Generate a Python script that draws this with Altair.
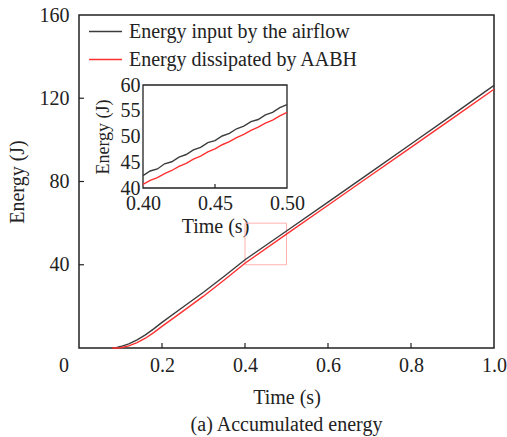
import altair as alt
import pandas as pd

# ---- data ----
series_names = ["Energy input by the airflow", "Energy dissipated by AABH"]
series_colors = ["#3c3c3c", "#ff3030"]

t_main = [0.08, 0.09, 0.10, 0.12, 0.14, 0.16, 0.18, 0.20, 0.25, 0.30, 0.35,
          0.40, 0.50, 0.60, 0.70, 0.80, 0.90, 1.00]
e_input = [0.0, 0.2, 0.7, 2.0, 3.9, 6.3, 9.2, 12.3, 19.6, 26.8, 34.5,
           42.4, 56.2, 70.1, 84.0, 98.0, 112.0, 126.2]
e_dissip = [0.0, 0.0, 0.1, 1.0, 2.6, 4.7, 7.4, 10.4, 17.6, 24.9, 32.7,
            40.7, 54.7, 68.6, 82.5, 96.4, 110.3, 124.3]

t_inset = [0.400, 0.405, 0.410, 0.415, 0.420, 0.425, 0.430, 0.435, 0.440, 0.445,
           0.450, 0.455, 0.460, 0.465, 0.470, 0.475, 0.480, 0.485, 0.490, 0.495, 0.500]
e_input_inset = [42.4, 43.3, 43.7, 44.7, 45.1, 46.0, 46.5, 47.4, 47.9, 48.8,
                 49.2, 50.1, 50.6, 51.5, 52.0, 52.9, 53.3, 54.2, 54.7, 55.6, 56.2]
e_dissip_inset = [40.7, 41.5, 42.0, 42.8, 43.4, 44.2, 44.8, 45.6, 46.2, 47.0,
                  47.6, 48.4, 49.0, 49.8, 50.4, 51.2, 51.8, 52.6, 53.2, 54.0, 54.7]

x_ticks_main = [0.2, 0.4, 0.6, 0.8]
y_ticks_main = [40, 80, 120]
x_ticks_inset = [0.45]
zoom_box = {"t0": [0.4], "t1": [0.5], "e0": [40], "e1": [60]}

FONT = "Liberation Serif"
FS = 20
W, H = 415, 333

main_df = pd.DataFrame({
    "t": t_main * 2,
    "E": e_input + e_dissip,
    "series": [series_names[0]] * len(t_main) + [series_names[1]] * len(t_main),
})
inset_df = pd.DataFrame({
    "t": t_inset * 2,
    "E": e_input_inset + e_dissip_inset,
    "series": [series_names[0]] * len(t_inset) + [series_names[1]] * len(t_inset),
})
box_df = pd.DataFrame(zoom_box)
origin_df = pd.DataFrame({"t": [0.0], "E": [0.0], "lab": ["0"]})

color_scale = alt.Scale(domain=series_names, range=series_colors)

# ---- main panel ----
xm = alt.Scale(domain=[0, 1], nice=False)
ym = alt.Scale(domain=[0, 160], nice=False)

main_lines = alt.Chart(main_df).mark_line(strokeWidth=1.4).encode(
    x=alt.X("t:Q", scale=xm, axis=alt.Axis(
        values=[0.2, 0.4, 0.6, 0.8, 1.0], format=".1f", tickSize=0, domain=False,
        grid=False, labelPadding=7, title="Time (s)", titlePadding=12,
        labelFlush=False, labelOverlap=False)),
    y=alt.Y("E:Q", scale=ym, axis=alt.Axis(
        values=[40, 80, 120, 160], format="d", tickSize=0, domain=False,
        grid=False, labelPadding=10, title="Energy (J)", titlePadding=12,
        labelFlush=False, labelOverlap=False)),
    color=alt.Color("series:N", scale=color_scale, sort=series_names,
                    legend=alt.Legend(orient="none", legendX=9, legendY=-1, title=None,
                                      symbolType="stroke", symbolSize=1089,
                                      symbolStrokeWidth=1.4, rowPadding=-13,
                                      labelOffset=6, padding=0,
                                      labelFont=FONT, labelFontSize=FS,
                                      labelColor="#222", labelLimit=400)),
    order="t:Q",
)

xtick_main = alt.Chart(pd.DataFrame({"t": x_ticks_main})).mark_rule(
    color="#222", strokeWidth=1.2).encode(
    x=alt.X("t:Q", scale=xm), y=alt.value(H), y2=alt.value(H - 5))
ytick_main = alt.Chart(pd.DataFrame({"E": y_ticks_main})).mark_rule(
    color="#222", strokeWidth=1.2).encode(
    y=alt.Y("E:Q", scale=ym), x=alt.value(0), x2=alt.value(5))

box = alt.Chart(box_df).mark_rect(fill=None, stroke="#ffb0b0", strokeWidth=1).encode(
    x=alt.X("t0:Q", scale=xm), x2="t1:Q", y=alt.Y("e0:Q", scale=ym), y2="e1:Q")

origin = alt.Chart(origin_df).mark_text(
    font=FONT, fontSize=FS, color="#222", dx=-15, dy=18).encode(
    x=alt.X("t:Q", scale=xm), y=alt.Y("E:Q", scale=ym), text="lab:N")

main_layer = alt.layer(box, main_lines, xtick_main, ytick_main, origin)

# ---- inset panel ----
xi = alt.Scale(domain=[0.4, 0.5], range=[64, 208], nice=False)
yi = alt.Scale(domain=[40, 60], range=[173, 70], nice=False)

inset_frame = alt.Chart(box_df).mark_rect(fill="white", stroke="#222", strokeWidth=1.3).encode(
    x=alt.X("t0:Q", scale=xi, axis=alt.Axis(
        orient="bottom", offset=-(H - 173), values=[0.40, 0.45, 0.50], format=".2f",
        tickSize=0, domain=False, grid=False, labelPadding=5, title="Time (s)",
        titlePadding=3, labelFlush=False, labelOverlap=False)),
    x2="t1:Q",
    y=alt.Y("e0:Q", scale=yi, axis=alt.Axis(
        orient="left", offset=-64, values=[40, 45, 50, 55, 60], format="d",
        tickSize=0, domain=False, grid=False, labelPadding=3, title="Energy (J)",
        titleFontSize=18, titlePadding=8, labelFlush=False, labelOverlap=False)),
    y2="e1:Q",
)

inset_lines = alt.Chart(inset_df).mark_line(strokeWidth=1.4).encode(
    x=alt.X("t:Q", scale=xi),
    y=alt.Y("E:Q", scale=yi),
    color=alt.Color("series:N", scale=color_scale, sort=series_names, legend=None),
    order="t:Q",
)

xtick_inset = alt.Chart(pd.DataFrame({"t": x_ticks_inset})).mark_rule(
    color="#222", strokeWidth=1.2).encode(
    x=alt.X("t:Q", scale=xi), y=alt.value(173), y2=alt.value(169))

inset_layer = alt.layer(inset_frame, inset_lines, xtick_inset)

chart = alt.layer(main_layer, inset_layer).resolve_scale(
    x="independent", y="independent"
).properties(
    width=W, height=H,
    autosize=alt.AutoSizeParams(type="none"),
    padding={"left": 79, "top": 15, "right": 13, "bottom": 89},
    title=alt.TitleParams("(a) Accumulated energy", orient="bottom", offset=8,
                          font=FONT, fontSize=FS, fontWeight="normal", color="#222"),
).configure_axis(
    labelFont=FONT, labelFontSize=FS, labelColor="#222",
    titleFont=FONT, titleFontSize=FS, titleFontWeight="normal", titleColor="#222",
).configure_view(
    stroke="#222", strokeWidth=1.5
)

chart.save("out.html", embed_options={"renderer": "svg", "actions": False})
